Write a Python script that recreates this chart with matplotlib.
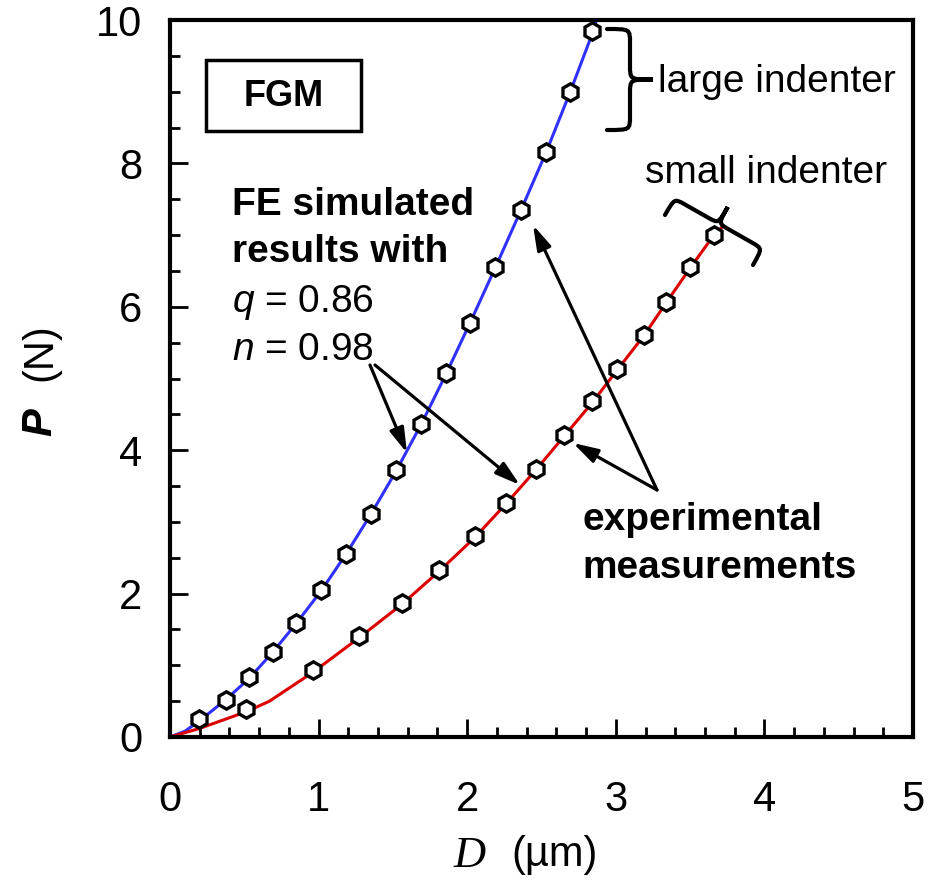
import matplotlib.pyplot as plt
import numpy as np
from matplotlib.path import Path
from matplotlib.patches import PathPatch, Rectangle
from matplotlib.ticker import MultipleLocator

plt.rcParams['font.family'] = ['Liberation Sans', 'DejaVu Sans']
plt.rcParams['mathtext.fontset'] = 'custom'
plt.rcParams['mathtext.it'] = 'Liberation Sans:italic'

# experimental measurements (markers)
large_D = [0.195, 0.375, 0.534, 0.69, 0.848, 1.018, 1.184, 1.35, 1.519, 1.69,
           1.857, 2.02, 2.19, 2.36, 2.53, 2.69, 2.84]
large_P = [0.25, 0.52, 0.83, 1.18, 1.59, 2.05, 2.55, 3.11, 3.72, 4.36,
           5.07, 5.78, 6.55, 7.35, 8.16, 8.99, 9.85]
small_D = [0.51, 0.96, 1.27, 1.56, 1.81, 2.05, 2.26, 2.46, 2.65, 2.84,
           3.01, 3.19, 3.34, 3.50, 3.66]
small_P = [0.39, 0.93, 1.41, 1.87, 2.33, 2.80, 3.27, 3.74, 4.21, 4.68,
           5.13, 5.61, 6.07, 6.55, 7.00]

# FE simulated curves
fe_large_D = [0.0, 0.1, 0.195, 0.375, 0.534, 0.69, 0.848, 1.018, 1.184, 1.35, 1.519,
              1.69, 1.857, 2.02, 2.19, 2.36, 2.53, 2.69, 2.84, 2.87]
fe_large_P = [0.0, 0.08, 0.22, 0.52, 0.82, 1.18, 1.58, 2.04, 2.55, 3.10, 3.70,
              4.36, 5.06, 5.78, 6.55, 7.34, 8.15, 8.98, 9.80, 10.0]
fe_small_D = [0.0, 0.2, 0.51, 0.67, 0.8, 0.96, 1.27, 1.56, 1.81, 2.05, 2.26, 2.46,
              2.65, 2.84, 3.01, 3.19, 3.34, 3.50, 3.66, 3.72]
fe_small_P = [0.0, 0.12, 0.35, 0.50, 0.68, 0.90, 1.38, 1.85, 2.31, 2.78, 3.25, 3.72,
              4.19, 4.66, 5.12, 5.60, 6.06, 6.54, 7.00, 7.12]

W, H = 933, 889
fig = plt.figure(figsize=(W / 100, H / 100), dpi=100)
ax = fig.add_axes([170 / W, 1 - 737 / H, (913 - 170) / W, (737 - 20) / H])


def px(x, y):
    # pixel position (top-left origin) -> figure fraction
    return (x / W, 1 - y / H)


ax.plot(fe_large_D, fe_large_P, color='#3030ff', lw=2.2, zorder=2)
ax.plot(fe_small_D, fe_small_P, color='#dd0000', lw=2.2, zorder=2)
ax.plot(large_D, large_P, 'h', ms=12.5, mfc='white', mec='black', mew=2.4, zorder=3)
ax.plot(small_D, small_P, 'h', ms=12.5, mfc='white', mec='black', mew=2.4, zorder=3)

ax.set_xlim(0, 5)
ax.set_ylim(0, 10)
ax.xaxis.set_major_locator(MultipleLocator(1))
ax.xaxis.set_minor_locator(MultipleLocator(0.2))
ax.yaxis.set_major_locator(MultipleLocator(2))
ax.yaxis.set_minor_locator(MultipleLocator(0.5))
ax.tick_params(which='both', direction='in', width=2, labelsize=30)
ax.tick_params(which='major', length=13)
ax.tick_params(which='minor', length=7)
ax.tick_params(axis='x', pad=31)
ax.tick_params(axis='y', pad=20)
for s in ax.spines.values():
    s.set_linewidth(3)

# axis labels
fig.text(*px(470, 856), 'D', fontsize=32, family='Liberation Serif', style='italic',
         ha='center', va='center')
fig.text(*px(555, 855), '(µm)', fontsize=30, ha='center', va='center')
fig.text(*px(40, 422), 'P', fontsize=30, fontweight='bold', style='italic',
         rotation=90, ha='center', va='center')
fig.text(*px(40, 352), '(N)', fontsize=30, rotation=90, ha='center', va='center')

# FGM box
fig.patches.append(Rectangle(px(206, 131), (361 - 206) / W, (131 - 60) / H,
                             transform=fig.transFigure, fill=False, lw=2.5, ec='black'))
fig.text(*px(284, 97), 'FGM', fontsize=26, fontweight='bold', ha='center', va='center')

# annotations text
fig.text(*px(232, 215), 'FE simulated', fontsize=28, fontweight='bold', va='baseline')
fig.text(*px(232, 262), 'results with', fontsize=28, fontweight='bold', va='baseline')
fig.text(*px(232, 312), r'$q$ = 0.86', fontsize=28, va='baseline')
fig.text(*px(232, 360), r'$n$ = 0.98', fontsize=28, va='baseline')
fig.text(*px(582, 530), 'experimental', fontsize=28, fontweight='bold', va='baseline')
fig.text(*px(582, 578), 'measurements', fontsize=28, fontweight='bold', va='baseline')
fig.text(*px(658, 92), 'large indenter', fontsize=28, va='baseline')
fig.text(*px(645, 183), 'small indenter', fontsize=28, va='baseline')

# arrows
arrows = [((370, 365), (407, 453)), ((375, 365), (520, 485)),
          ((657, 490), (533, 225)), ((657, 490), (573, 443))]
for (x0, y0), (x1, y1) in arrows:
    ax.annotate('', xy=px(x1, y1), xycoords='figure fraction',
                xytext=px(x0, y0), textcoords='figure fraction',
                arrowprops=dict(arrowstyle='-|>,head_length=0.75,head_width=0.22',
                                mutation_scale=20, color='black', lw=2.3,
                                shrinkA=0, shrinkB=0))


def brace(p0, p1, a, r):
    p0 = np.array(p0, float)
    p1 = np.array(p1, float)
    L = np.linalg.norm(p1 - p0)
    eu = (p1 - p0) / L
    ev = np.array([-eu[1], eu[0]])
    local = [(0, 0), (0, a), (0, a), (r, a), (L / 2 - r, a), (L / 2, a), (L / 2, a), (L / 2, 2 * a),
             (L / 2, a), (L / 2, a), (L / 2 + r, a), (L - r, a), (L, a), (L, a), (L, 0)]
    codes = [Path.MOVETO, Path.CURVE4, Path.CURVE4, Path.CURVE4, Path.LINETO,
             Path.CURVE4, Path.CURVE4, Path.CURVE4, Path.CURVE4, Path.CURVE4, Path.CURVE4,
             Path.LINETO, Path.CURVE4, Path.CURVE4, Path.CURVE4]
    pts = [px(*(p0 + u * eu + v * ev)) for u, v in local]
    fig.patches.append(PathPatch(Path(pts, codes), transform=fig.transFigure,
                                 fill=False, lw=3, ec='black', capstyle='round'))


# large indenter brace: vertical, tip to the right
brace((607, 130), (607, 29), 23, 14)
# small indenter brace: tilted, tip to the upper right
brace((753, 265), (665, 215), 19, 12)

fig.savefig('out.png', dpi=100)
